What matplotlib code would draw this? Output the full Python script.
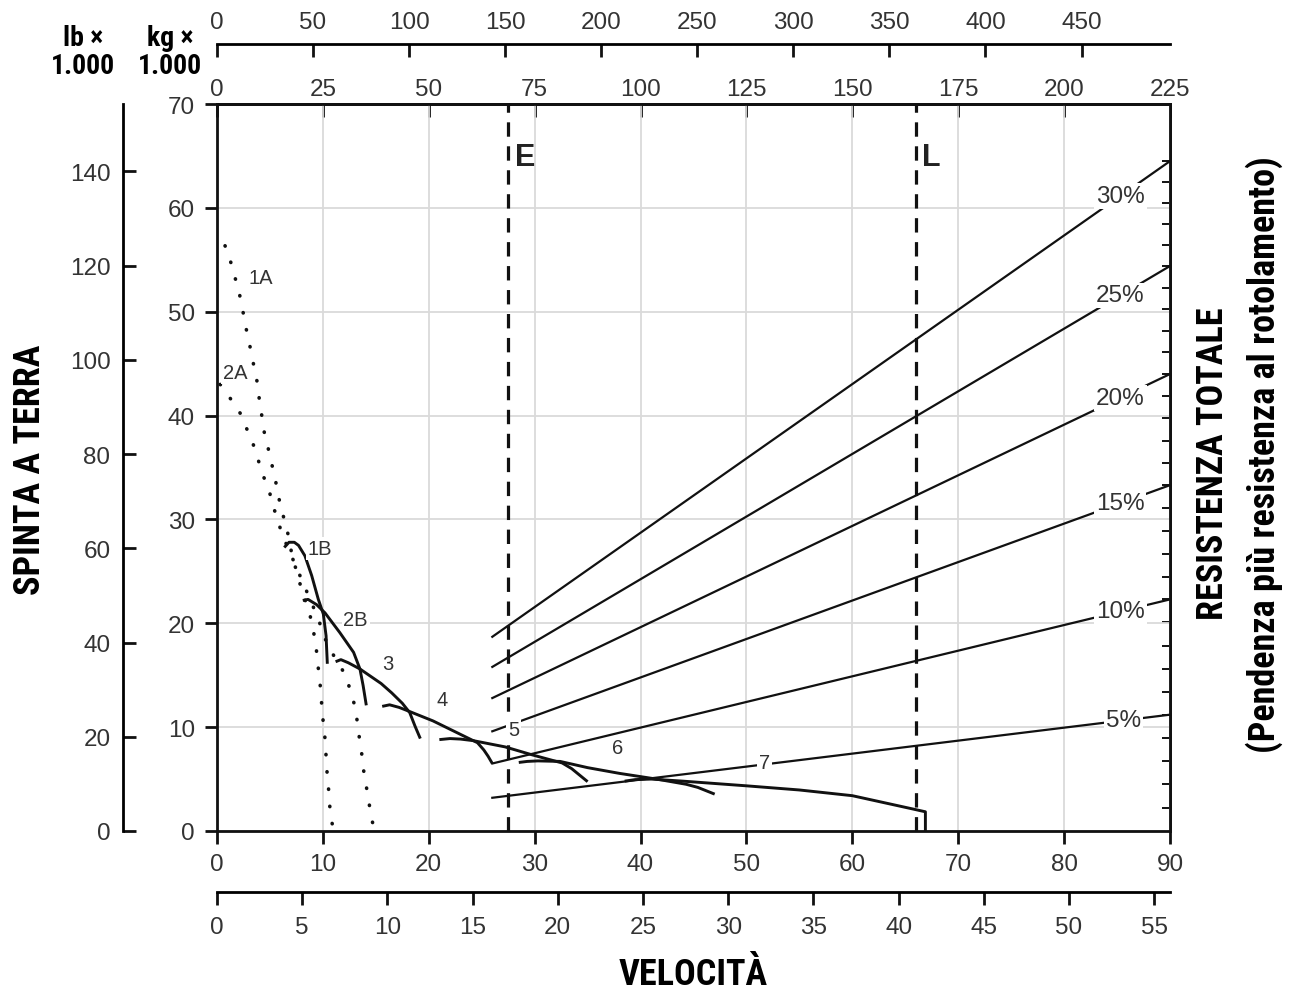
import numpy as np
import matplotlib
matplotlib.use("Agg")
import matplotlib.pyplot as plt
from matplotlib import font_manager
from matplotlib.ticker import NullFormatter

# ---------------- data ----------------
speed_kmh_ticks = np.arange(0, 91, 10)
speed_mph_ticks = np.arange(0, 56, 5)
rimpull_kg_ticks = np.arange(0, 71, 10)
rimpull_lb_ticks = np.arange(0, 141, 20)
weight_kg_ticks = np.arange(0, 226, 25)
weight_lb_ticks = np.arange(0, 451, 50)

KG_TO_LB = 2.2046
KMH_TO_MPH = 0.6214
WEIGHT_PER_KMH = 2.5   # top weight scale: 225 t over 90 km/h

# dotted (converter) curves
gear_1A_x = [0.76, 1.29, 1.70, 2.08, 2.39, 2.64, 2.96, 3.27, 3.53, 3.84, 4.0, 4.22, 4.44,
             4.78, 5.1, 5.48, 5.69, 6.04, 6.42, 6.83, 7.05, 7.46, 7.84, 8.3, 8.78, 9.1,
             9.35, 9.5, 9.66, 9.82, 9.9, 10.04, 10.2, 10.29, 10.36, 10.51, 10.6, 10.74, 11.0]
gear_1A_y = [56.35, 54.8, 53.3, 51.9, 50.4, 48.9, 47.4, 45.9, 44.5, 43.0, 41.5, 40.05, 38.5,
             37.1, 35.6, 34.1, 32.7, 31.2, 29.7, 28.1, 26.7, 25.2, 23.8, 22.3, 20.8, 19.3,
             17.8, 16.3, 14.8, 13.35, 11.9, 10.4, 8.9, 7.4, 6.0, 4.5, 2.9, 1.5, 0.0]
gear_2A_x = [0.3, 1.29, 2.24, 2.86, 3.43, 3.9, 4.37, 4.94, 5.32, 5.79, 6.26, 8.0, 9.5,
             10.4, 11.3, 12.18, 12.62, 13.03, 13.25, 13.44, 13.66, 13.82, 14.07, 14.29, 14.54, 14.83]
gear_2A_y = [43.0, 41.6, 40.15, 38.6, 37.2, 35.7, 34.2, 32.7, 31.25, 29.7, 28.3, 24.2, 20.6,
             18.0, 16.4, 14.95, 13.4, 12.0, 10.5, 9.0, 7.5, 6.0, 4.5, 3.1, 1.6, 0.1]

# solid gear curves
gear_1B_x = [6.35, 6.8, 7.3, 7.7, 8.3, 8.94, 9.57, 10.04, 10.3, 10.42]
gear_1B_y = [27.3, 27.8, 27.8, 27.5, 26.5, 24.6, 22.3, 20.9, 18.8, 16.1]
gear_2B_x = [8.1, 8.6, 9.4, 10.2, 11.6, 12.9, 13.5, 13.8, 14.1]
gear_2B_y = [22.2, 22.3, 21.8, 21.0, 19.1, 17.2, 15.6, 14.0, 12.1]
gear_3_x = [11.2, 11.7, 12.4, 13.5, 14.5, 15.5, 16.5, 17.5, 18.2, 18.7, 19.2]
gear_3_y = [16.3, 16.5, 16.2, 15.6, 14.9, 14.2, 13.3, 12.3, 11.4, 10.1, 8.9]
gear_4_x = [15.6, 16.3, 17.2, 18.2, 20.4, 22.0, 24.0, 24.6, 25.2, 25.6, 26.0]
gear_4_y = [12.0, 12.15, 11.9, 11.5, 10.6, 9.8, 8.8, 8.5, 7.8, 7.2, 6.5]
gear_5_x = [21.0, 22.0, 23.0, 24.2, 27.2, 29.7, 31.5, 32.6, 33.5, 35.0]
gear_5_y = [8.8, 8.9, 8.85, 8.7, 8.1, 7.35, 6.85, 6.55, 6.0, 4.75]
gear_6_x = [28.5, 29.3, 30.3, 32.4, 35.0, 38.0, 41.5, 44.3, 45.4, 47.0]
gear_6_y = [6.6, 6.7, 6.75, 6.7, 6.1, 5.55, 5.0, 4.5, 4.2, 3.55]
gear_7_x = [38.5, 39.5, 41.0, 44.0, 50.0, 55.0, 60.0, 65.8, 66.9, 66.9]
gear_7_y = [4.8, 4.95, 5.0, 4.8, 4.35, 3.95, 3.4, 2.1, 1.85, 0.0]

gear_labels = ["1A", "2A", "1B", "2B", "3", "4", "5", "6", "7"]
gear_label_x = [4.1, 1.7, 9.7, 13.1, 16.1, 21.3, 28.0, 37.8, 51.7]
gear_label_y = [53.3, 44.1, 27.2, 20.4, 16.1, 12.7, 9.8, 8.0, 6.6]

# total resistance (grade) lines
grade_pct = [5, 10, 15, 20, 25, 30]
grade_x_start, grade_x_end = 26.0, 90.0
grade_y_start = [3.2, 6.5, 9.6, 12.8, 15.8, 18.7]
grade_y_end = [11.2, 22.3, 33.3, 44.0, 54.4, 64.5]
grade_label_x = [85.6, 85.3, 85.3, 85.3, 85.3, 85.3]

# operating limits
limit_names = ["E", "L"]
limit_speed = [27.5, 66.0]

# ---------------- fonts ----------------
def pick(fams):
    for f in fams:
        try:
            font_manager.findfont(font_manager.FontProperties(family=f), fallback_to_default=False)
            return f
        except Exception:
            pass
    return "DejaVu Sans"

NARROW = pick(["Liberation Sans Narrow", "Roboto Condensed", "DejaVu Sans Condensed", "Liberation Sans"])
REG = pick(["Liberation Sans", "Arial", "DejaVu Sans"])
plt.rcParams["font.family"] = [REG, "DejaVu Sans"]

INK = "#111111"
TXT = "#333333"
TICK_FS = 17.5

# ---------------- figure ----------------
W, H = 1289, 1003
fig = plt.figure(figsize=(W / 100, H / 100), dpi=100)
L, R, T, B = 217, 1170, 105, 832
ax = fig.add_axes([L / W, 1 - B / H, (R - L) / W, (B - T) / H])
ax.set_xlim(0, 90)
ax.set_ylim(0, 70)
ax.set_xticks(speed_kmh_ticks)
ax.set_yticks(rimpull_kg_ticks)
ax.grid(True, color="#dadada", lw=1.3)
ax.set_axisbelow(True)
for s in ax.spines.values():
    s.set_linewidth(2.0)
    s.set_color(INK)
ax.tick_params(axis="both", direction="out", length=9, width=2.0, color=INK,
               labelsize=TICK_FS, labelcolor=TXT)
ax.tick_params(axis="x", pad=7)
ax.tick_params(axis="y", pad=7)

# top weight scales
sec_kg = ax.secondary_xaxis("top", functions=(lambda v: v * WEIGHT_PER_KMH,
                                               lambda w: w / WEIGHT_PER_KMH))
sec_kg.set_xticks(weight_kg_ticks)
sec_kg.tick_params(direction="in", length=9, width=2.0, color=INK, labelsize=TICK_FS,
                   labelcolor=TXT, pad=3)
for s in sec_kg.spines.values():
    s.set_linewidth(2.0)

sec_lb = ax.secondary_xaxis(1 + 60 / (B - T),
                            functions=(lambda v: v * WEIGHT_PER_KMH * KG_TO_LB,
                                       lambda w: w / (WEIGHT_PER_KMH * KG_TO_LB)))
sec_lb.set_xticks(weight_lb_ticks)
sec_lb.tick_params(direction="in", length=9, width=2.0, color=INK, labelsize=TICK_FS,
                   labelcolor=TXT, pad=8)
for s in sec_lb.spines.values():
    s.set_linewidth(2.0)

# outer left lb scale
sec_rl = ax.secondary_yaxis(-94 / (R - L), functions=(lambda v: v * KG_TO_LB,
                                                       lambda p: p / KG_TO_LB))
sec_rl.set_yticks(rimpull_lb_ticks)
sec_rl.tick_params(direction="in", length=9, width=2.0, color=INK, labelsize=TICK_FS,
                   labelcolor=TXT, pad=9)
for s in sec_rl.spines.values():
    s.set_linewidth(2.0)

# bottom mph scale
sec_mph = ax.secondary_xaxis(-61 / (B - T), functions=(lambda v: v * KMH_TO_MPH,
                                                       lambda m: m / KMH_TO_MPH))
sec_mph.set_xticks(speed_mph_ticks)
sec_mph.tick_params(direction="out", length=9, width=2.0, color=INK, labelsize=TICK_FS,
                    labelcolor=TXT, pad=8)
for s in sec_mph.spines.values():
    s.set_linewidth(2.0)

# right resistance scale (one tick per percent)
res_ticks = np.interp(np.arange(1, 31), [0] + grade_pct, [0] + grade_y_end)
sec_r = ax.secondary_yaxis("right")
sec_r.set_yticks(res_ticks)
sec_r.yaxis.set_major_formatter(NullFormatter())
sec_r.tick_params(direction="in", length=6, width=1.4, color=INK)
for s in sec_r.spines.values():
    s.set_linewidth(2.0)

# ---------------- curves ----------------
dot_style = dict(color=INK, lw=2.6, ls=(0, (0.1, 4.7)), dash_capstyle="round", zorder=3)
ax.plot(gear_1A_x, gear_1A_y, **dot_style)
ax.plot(gear_2A_x, gear_2A_y, **dot_style)

solid = dict(color=INK, lw=2.1, solid_joinstyle="round", solid_capstyle="butt", zorder=4)
for gx, gy in [(gear_1B_x, gear_1B_y), (gear_2B_x, gear_2B_y), (gear_3_x, gear_3_y),
               (gear_4_x, gear_4_y), (gear_5_x, gear_5_y), (gear_6_x, gear_6_y),
               (gear_7_x, gear_7_y)]:
    ax.plot(gx, gy, **solid)

for pct, y0, y1, lx in zip(grade_pct, grade_y_start, grade_y_end, grade_label_x):
    ax.plot([grade_x_start, grade_x_end], [y0, y1], color=INK, lw=1.6, zorder=3)
    ly = np.interp(lx, [grade_x_start, grade_x_end], [y0, y1])
    ax.text(lx, ly, f"{pct}%", ha="center", va="center", fontsize=17.5, color=TXT,
            bbox=dict(boxstyle="square,pad=0.08", fc="white", ec="none"), zorder=6)

for name, xs in zip(limit_names, limit_speed):
    ax.axvline(xs, color=INK, lw=2.3, ls=(0, (4.5, 3.0)), zorder=3)
    ax.text(xs + 0.6, 64.9, name, ha="left", va="center", fontsize=22,
            fontweight="bold", color="#222222", zorder=6)

for lab, lx, ly in zip(gear_labels, gear_label_x, gear_label_y):
    ax.text(lx, ly, lab, ha="center", va="center", fontsize=14.5, color=TXT,
            bbox=dict(boxstyle="square,pad=0.08", fc="white", ec="none"), zorder=6)

# ---------------- titles ----------------
tfont = dict(family=[NARROW, "DejaVu Sans"], fontweight="bold", color="black")
fig.text(30 / W, 1 - 470 / H, "SPINTA A TERRA", rotation=90, ha="center", va="center",
         fontsize=26, **tfont)
fig.text(693 / W, 1 - 975 / H, "VELOCITÀ", ha="center", va="center", fontsize=26, **tfont)
fig.text(1213 / W, 1 - 464 / H, "RESISTENZA TOTALE", rotation=90, ha="center",
         va="center", fontsize=26, **tfont)
fig.text(1264 / W, 1 - 455 / H, "(Pendenza più resistenza al rotolamento)", rotation=90,
         ha="center", va="center", fontsize=26, **tfont)
fig.text(83 / W, 1 - 38 / H, "lb ×", ha="center", va="center", fontsize=20, **tfont)
fig.text(83 / W, 1 - 66 / H, "1.000", ha="center", va="center", fontsize=20, **tfont)
fig.text(170 / W, 1 - 38 / H, "kg ×", ha="center", va="center", fontsize=20, **tfont)
fig.text(170 / W, 1 - 66 / H, "1.000", ha="center", va="center", fontsize=20, **tfont)

fig.savefig("out.png", dpi=100)
